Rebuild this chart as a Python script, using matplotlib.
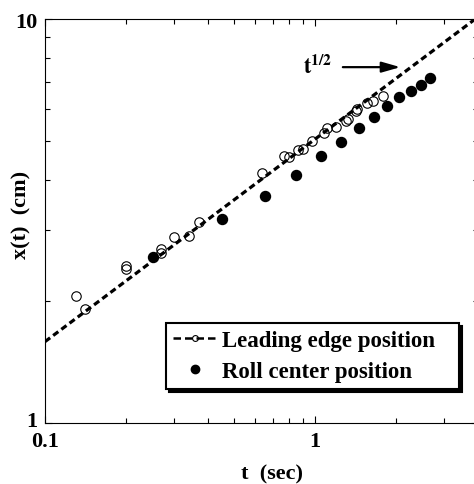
import matplotlib
matplotlib.use("Agg")
import matplotlib.pyplot as plt
import matplotlib.transforms as mtransforms
from matplotlib.lines import Line2D
from matplotlib.ticker import LogLocator, NullFormatter

plt.rcParams['font.family'] = ['Liberation Serif', 'DejaVu Serif']
plt.rcParams['font.weight'] = 'bold'
plt.rcParams['axes.labelweight'] = 'bold'
plt.rcParams['font.size'] = 16
plt.rcParams['mathtext.fontset'] = 'stix'

# leading edge position (open circles)
lead_t = [0.130, 0.141, 0.200, 0.200, 0.270, 0.270, 0.300, 0.340, 0.371,
          0.637, 0.770, 0.801, 0.867, 0.905, 0.972, 1.075, 1.105, 1.196,
          1.303, 1.328, 1.419, 1.427, 1.562, 1.636, 1.778]
lead_x = [2.06, 1.92, 2.45, 2.40, 2.69, 2.64, 2.89, 2.90, 3.15,
          4.16, 4.57, 4.55, 4.74, 4.76, 5.00, 5.22, 5.36, 5.41,
          5.58, 5.66, 5.93, 5.99, 6.20, 6.28, 6.46]

# roll center position (filled circles)
roll_t = [0.251, 0.451, 0.653, 0.848, 1.052, 1.248, 1.452, 1.654, 1.843,
          2.053, 2.26, 2.46, 2.67]
roll_x = [2.57, 3.20, 3.65, 4.11, 4.59, 4.97, 5.38, 5.72, 6.08,
          6.42, 6.63, 6.87, 7.16]

# t^1/2 guide line (end points)
fit_t = [0.1, 4.0]
fit_x = [1.59, 10.1]

fig = plt.figure(figsize=(4.74, 4.85), dpi=100)
ax = fig.add_axes([45 / 474, 61 / 485, 432.6 / 474, 404 / 485])

ax.plot(fit_t, fit_x, color='black', lw=2.3, ls='--', dashes=(2.0, 1.2))
ax.plot(lead_t, lead_x, ls='none', marker='o', ms=6.8, mfc='none',
        mec='black', mew=0.8)
ax.plot(roll_t, roll_x, ls='none', marker='o', ms=7.2, color='black')

ax.set_xscale('log')
ax.set_yscale('log')
ax.set_xlim(0.1, 4)
ax.set_ylim(1, 10)

ax.set_xticks([0.1, 1], ['0.1', '1'])
ax.set_yticks([1, 10], ['1', '10'])
ax.xaxis.set_minor_locator(LogLocator(subs=range(2, 10)))
ax.yaxis.set_minor_locator(LogLocator(subs=range(2, 10)))
ax.xaxis.set_minor_formatter(NullFormatter())
ax.yaxis.set_minor_formatter(NullFormatter())
ax.tick_params(which='both', direction='in', top=True, right=True, width=0.8)
ax.tick_params(which='major', length=5)
ax.tick_params(which='minor', length=3.5)
ax.tick_params(axis='x', which='major', pad=6)
ax.tick_params(axis='y', which='major', pad=5.5)
for s in ax.spines.values():
    s.set_linewidth(0.8)

# nudge the bottom "1" up a little so it clears "0.1"
lab = ax.yaxis.get_major_ticks()[0].label1
lab.set_transform(lab.get_transform() +
                  mtransforms.ScaledTranslation(0, 4 / 100, fig.dpi_scale_trans))

ax.set_xlabel('t  (sec)', va='center')
ax.xaxis.set_label_coords(0.525, -0.126)
ax.set_ylabel('x(t)  (cm)', va='center')
ax.yaxis.set_label_coords(-0.054, 0.517)

ax.text(1.02, 7.62, r'$\mathbf{t}^{\mathbf{1/2}}$', ha='center', va='center',
        fontsize=16)
ax.annotate('', xy=(2.12, 7.6), xytext=(1.238, 7.6),
            arrowprops=dict(arrowstyle='-|>,head_length=0.7,head_width=0.2',
                            color='black', lw=1.6))

handles = [
    Line2D([], [], color='black', lw=1.8, ls='--', dashes=(3.0, 1.6),
           marker='o', ms=4.2, mfc='none', mec='black', mew=0.8),
    Line2D([], [], ls='none', marker='o', ms=6, color='black'),
]
leg = ax.legend(handles, ['Leading edge position', 'Roll center position'],
                loc='lower left', bbox_to_anchor=(0.2797, 0.0842, 0.677, 0.168),
                mode='expand', borderaxespad=0, borderpad=0.3,
                handlelength=1.95, handletextpad=0.2, labelspacing=0.45,
                fancybox=False, framealpha=1, edgecolor='black',
                prop={'size': 16.5, 'weight': 'bold'},
                shadow={'color': 'black', 'alpha': 1})
leg.get_frame().set_linewidth(1.5)

fig.savefig('out.png', dpi=100)
